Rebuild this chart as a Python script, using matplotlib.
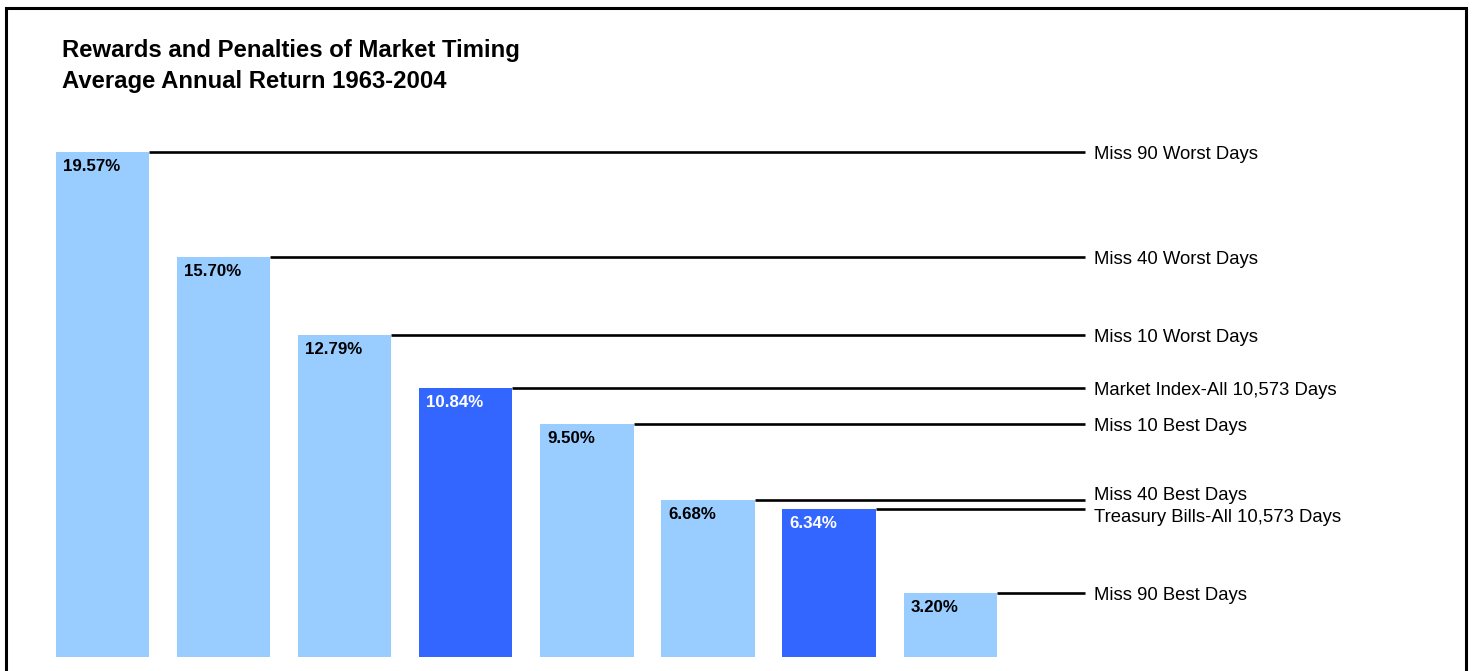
import matplotlib
matplotlib.use("Agg")
import matplotlib.pyplot as plt
from matplotlib.patches import Rectangle

plt.rcParams['font.family'] = ['Liberation Sans', 'DejaVu Sans']

# ---- data ----
categories = ["Miss 90 Worst Days", "Miss 40 Worst Days", "Miss 10 Worst Days",
              "Market Index-All 10,573 Days", "Miss 10 Best Days", "Miss 40 Best Days",
              "Treasury Bills-All 10,573 Days", "Miss 90 Best Days"]
returns = [19.57, 15.70, 12.79, 10.84, 9.50, 6.68, 6.34, 3.20]
value_labels = ["19.57%", "15.70%", "12.79%", "10.84%", "9.50%", "6.68%", "6.34%", "3.20%"]
highlight = [False, False, False, True, False, False, True, False]
title_lines = ["Rewards and Penalties of Market Timing", "Average Annual Return 1963-2004"]

W, H = 1473, 671
fig = plt.figure(figsize=(W / 100, H / 100), dpi=100)
ax = fig.add_axes([0, 14 / H, 1, 527 / H])
ax.set_axis_off()

light, dark = "#99CCFF", "#3366FF"
x = list(range(len(returns)))
bw = 0.77
colors = [dark if h else light for h in highlight]
ax.bar(x, returns, width=bw, color=colors, linewidth=0)
ax.set_xlim(-0.846, 11.317)
ax.set_ylim(0.842, 20.40)

line_end = 8.113
label_nudge = {5: 6.5, 6: -6.5}  # pixels, to keep neighbouring labels legible
for i, v in enumerate(returns):
    ax.plot([i + bw / 2, line_end], [v, v], color="black", lw=1.9,
            solid_capstyle="butt", clip_on=False)
    ax.annotate(categories[i], xy=(line_end, v), xycoords="data",
                xytext=(9, -7 + label_nudge.get(i, 0)), textcoords="offset pixels",
                ha="left", va="baseline", fontsize=13.3, color="black")
    ax.annotate(value_labels[i], xy=(i - bw / 2, v), xycoords="data",
                xytext=(7, -19), textcoords="offset pixels",
                ha="left", va="baseline", fontsize=12.2, fontweight="bold",
                color="white" if highlight[i] else "black")

fig.text(62 / W, 1 - 57 / H, title_lines[0], fontsize=17.2, fontweight="bold",
         ha="left", va="baseline")
fig.text(62 / W, 1 - 88 / H, title_lines[1], fontsize=17.2, fontweight="bold",
         ha="left", va="baseline")

border = Rectangle((6.2 / W, -0.2), (1466 - 6.2) / W, 1.2 - 7.5 / H,
                   transform=fig.transFigure, fill=False, edgecolor="black",
                   linewidth=2.2, clip_on=False)
fig.patches.append(border)

fig.savefig("out.png", dpi=100)
